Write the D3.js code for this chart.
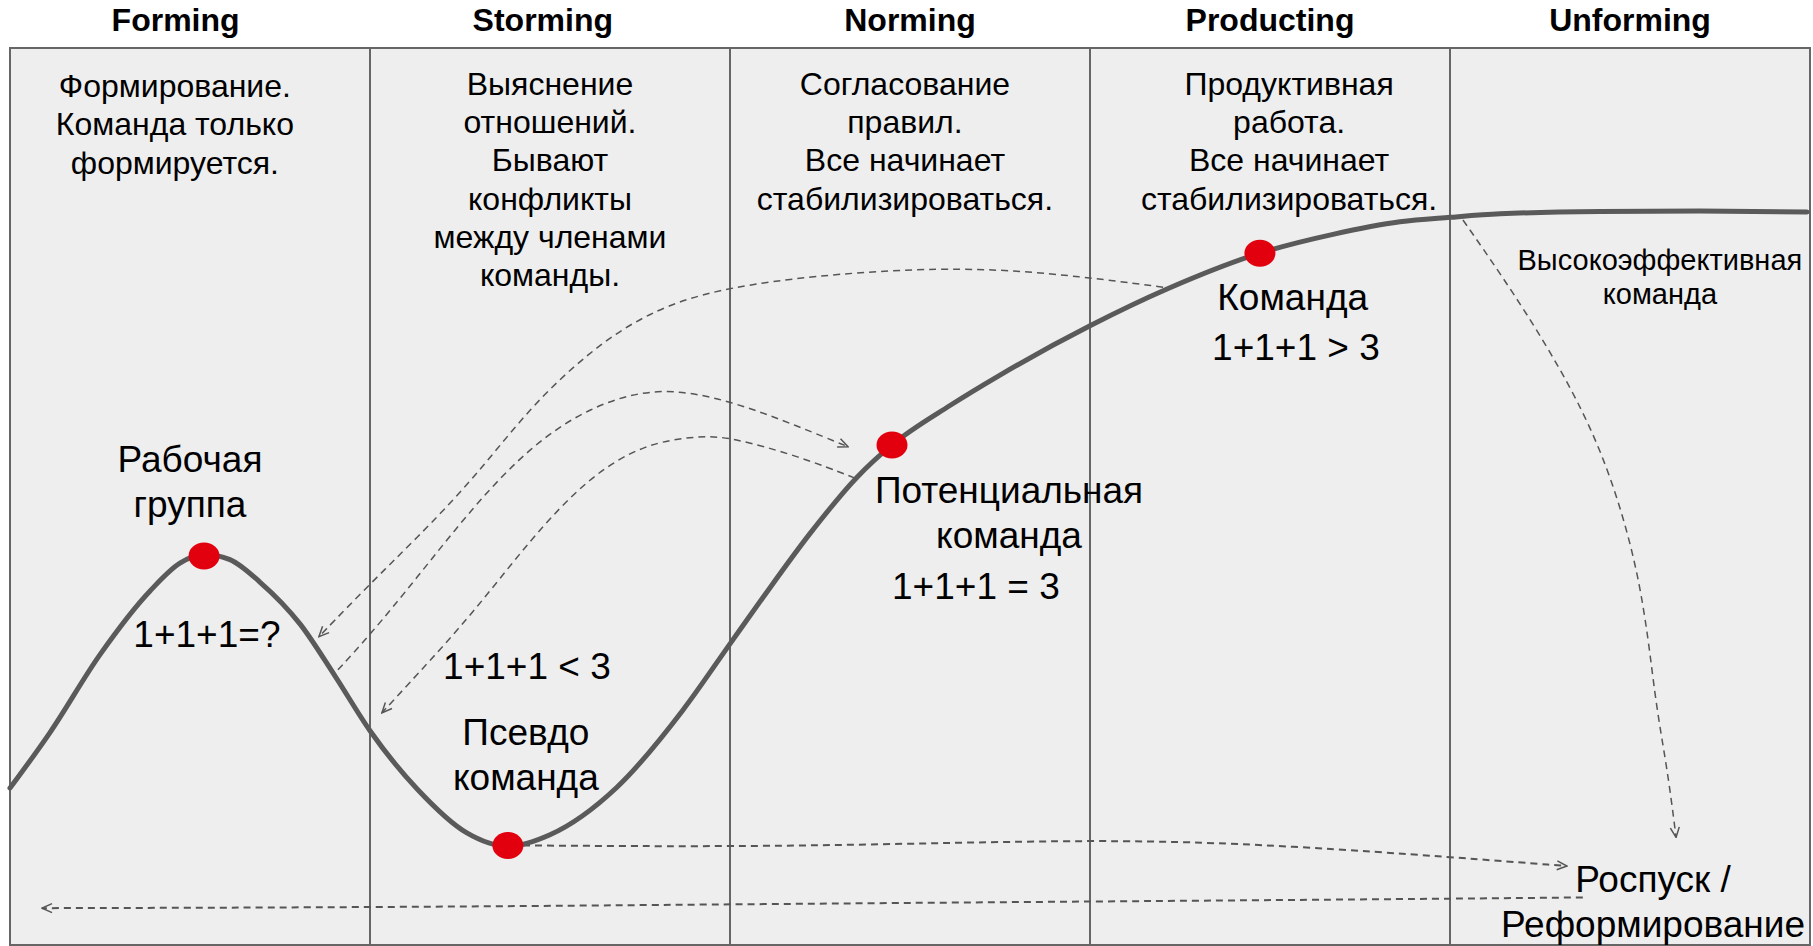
<!DOCTYPE html>
<html><head><meta charset="utf-8">
<script src="https://cdn.jsdelivr.net/npm/d3@7"></script>
<style>html,body{margin:0;padding:0;background:#fff;}svg{display:block;}</style>
</head><body>
<script>
// ---- data ----
const stages = ["Forming", "Storming", "Norming", "Producting", "Unforming"];
const headerX = [0.46, 1.48, 2.5, 3.5, 4.5];
const headerLevel = 101.9;

const descriptions = [
  ["Формирование.", "Команда только", "формируется."],
  ["Выяснение", "отношений.", "Бывают", "конфликты", "между членами", "команды."],
  ["Согласование", "правил.", "Все начинает", "стабилизироваться."],
  ["Продуктивная", "работа.", "Все начинает", "стабилизироваться."]
];
const descX = [0.458, 1.5, 2.486, 3.553];
const descLevel = [94.5, 94.75, 94.75, 94.75];

// team development curve: stage position (0..5) vs effectiveness level (0..100)
const curveStage = [0, 0.111, 0.25, 0.389, 0.472, 0.539, 0.611, 0.694, 0.806, 0.903, 1.0, 1.131, 1.269, 1.383, 1.5, 1.686, 1.869, 2.0, 2.092, 2.222, 2.353, 2.45, 2.611, 2.75, 3.0, 3.214, 3.472, 3.675, 3.861, 4.0, 4.139, 4.417, 4.694, 4.992];
const curveLevel = [17.4, 23.6, 32.3, 39.4, 42.5, 43.5, 42.9, 40.4, 35.7, 29.9, 23.8, 17.3, 12.4, 10.9, 12.2, 17.5, 26.1, 33.5, 38.7, 45.8, 52.1, 55.7, 60.1, 63.5, 69.0, 73.1, 77.1, 79.2, 80.6, 81.1, 81.5, 81.75, 81.8, 81.7];

const milestoneStage = [0.539, 1.383, 2.45, 3.472];
const milestoneLevel = [43.3, 11.0, 55.7, 77.1];

// dashed transition arrows (stage, level)
const arrowA = {s: [3.203, 3.0, 2.611, 2.0, 1.764, 1.606, 1.444, 1.286, 1.125, 1.0, 0.858], l: [73.3, 74.4, 75.9, 73.8, 70.4, 66.0, 59.9, 51.8, 45.1, 40.2, 34.3], w: 1.5};
const arrowB = {s: [0.911, 1.0, 1.125, 1.286, 1.444, 1.606, 1.797, 2.0, 2.194, 2.328], l: [30.6, 34.5, 40.6, 48.8, 55.5, 59.9, 62.3, 60.7, 57.7, 55.5], w: 1.5};
const arrowC = {s: [2.347, 2.194, 2.0, 1.914, 1.764, 1.606, 1.444, 1.286, 1.125, 1.033], l: [52.0, 54.4, 56.6, 56.7, 55.9, 52.1, 45.1, 36.9, 29.8, 25.8], w: 1.5};
const arrowD = {s: [1.425, 2.194, 3.056, 3.583, 4.0, 4.325], l: [11.0, 10.8, 11.8, 10.9, 9.7, 8.7], w: 2};
const arrowE = {s: [4.369, 3.861, 2.194, 1.083, 0.089], l: [5.2, 5.0, 4.5, 4.1, 4.0], w: 2};
const arrowF = {s: [4.036, 4.139, 4.278, 4.425, 4.533, 4.569, 4.603, 4.628], l: [80.8, 74.9, 66.3, 55.4, 40.8, 27.2, 19.8, 11.9], w: 1.5};
const arrows = [arrowA, arrowB, arrowC, arrowD, arrowE, arrowF];

// labels: lines, stage, level of first baseline, size class
const labels = [
  {lines: ["Рабочая", "группа"], s: 0.5, l: 52.7, big: true},
  {lines: ["1+1+1=?"], s: 0.547, l: 33.1, big: true},
  {lines: ["1+1+1 < 3"], s: 1.436, l: 29.6, big: true},
  {lines: ["Псевдо", "команда"], s: 1.433, l: 22.2, big: true},
  {lines: ["Потенциальная", "команда"], s: 2.775, l: 49.2, big: true},
  {lines: ["1+1+1 = 3"], s: 2.683, l: 38.5, big: true},
  {lines: ["Команда"], s: 3.563, l: 70.8, big: true},
  {lines: ["1+1+1 > 3"], s: 3.572, l: 65.2, big: true},
  {lines: ["Высокоэффективная", "команда"], s: 4.583, l: 75.2, big: false},
  {lines: ["Роспуск /", "Реформирование"], s: 4.564, l: 5.8, big: true}
];

// ---- drawing ----
const W = 1813, H = 946;
const x = d3.scaleLinear().domain([0, 5]).range([10, 1810]);
const y = d3.scaleLinear().domain([0, 100]).range([944, 48]);
const FONT = "'Liberation Sans', Arial, sans-serif";

const svg = d3.select("body").append("svg").attr("width", W).attr("height", H);
svg.append("rect").attr("width", W).attr("height", H).attr("fill", "#fff");

svg.append("defs").append("marker")
  .attr("id", "arr").attr("viewBox", "0 0 12 12").attr("refX", 11).attr("refY", 6)
  .attr("markerWidth", 12).attr("markerHeight", 12).attr("markerUnits", "userSpaceOnUse")
  .attr("orient", "auto")
  .append("path").attr("d", "M1,1.5 L11,6 L1,10.5").attr("fill", "none")
  .attr("stroke", "#555").attr("stroke-width", 1.5);

// stage columns
svg.append("g").selectAll("rect").data(stages).join("rect")
  .attr("x", (d, i) => x(i)).attr("y", y(100))
  .attr("width", x(1) - x(0)).attr("height", y(0) - y(100) + 1)
  .attr("fill", "#eeeeee").attr("stroke", "#666").attr("stroke-width", 2);

// headers
svg.append("g").selectAll("text").data(stages).join("text")
  .attr("x", (d, i) => x(headerX[i])).attr("y", y(headerLevel))
  .attr("text-anchor", "middle").attr("font-family", FONT).attr("font-weight", "bold")
  .attr("font-size", 32).attr("fill", "#000").text(d => d);

// descriptions
descriptions.forEach((lines, i) => {
  const t = svg.append("text").attr("text-anchor", "middle").attr("font-family", FONT)
    .attr("font-size", 32).attr("fill", "#000");
  lines.forEach((ln, j) => {
    t.append("tspan").attr("x", x(descX[i])).attr("y", y(descLevel[i]) + j * 38.2).text(ln);
  });
});

// dashed arrows
const arrowLine = d3.line().x(d => x(d[0])).y(d => y(d[1])).curve(d3.curveBasis);
svg.append("g").selectAll("path").data(arrows).join("path")
  .attr("d", a => arrowLine(a.s.map((s, i) => [s, a.l[i]])))
  .attr("fill", "none").attr("stroke", "#555").attr("stroke-width", a => a.w)
  .attr("stroke-dasharray", "7,5").attr("marker-end", "url(#arr)");

// main curve
const mainLine = d3.line().x(d => x(d[0])).y(d => y(d[1])).curve(d3.curveMonotoneX);
svg.append("path")
  .attr("d", mainLine(curveStage.map((s, i) => [s, curveLevel[i]])))
  .attr("fill", "none").attr("stroke", "#5a5a5a").attr("stroke-width", 5)
  .attr("stroke-linecap", "round");

// milestones
svg.append("g").selectAll("ellipse").data(milestoneStage).join("ellipse")
  .attr("cx", d => x(d)).attr("cy", (d, i) => y(milestoneLevel[i]))
  .attr("rx", 15.5).attr("ry", 13.5).attr("fill", "#e2000e");

// labels
labels.forEach(lb => {
  const t = svg.append("text").attr("text-anchor", "middle").attr("font-family", FONT)
    .attr("font-size", lb.big ? 37 : 29).attr("fill", "#000");
  lb.lines.forEach((s, j) => {
    t.append("tspan").attr("x", x(lb.s)).attr("y", y(lb.l) + j * (lb.big ? 45 : 34)).text(s);
  });
});
</script>
</body></html>
